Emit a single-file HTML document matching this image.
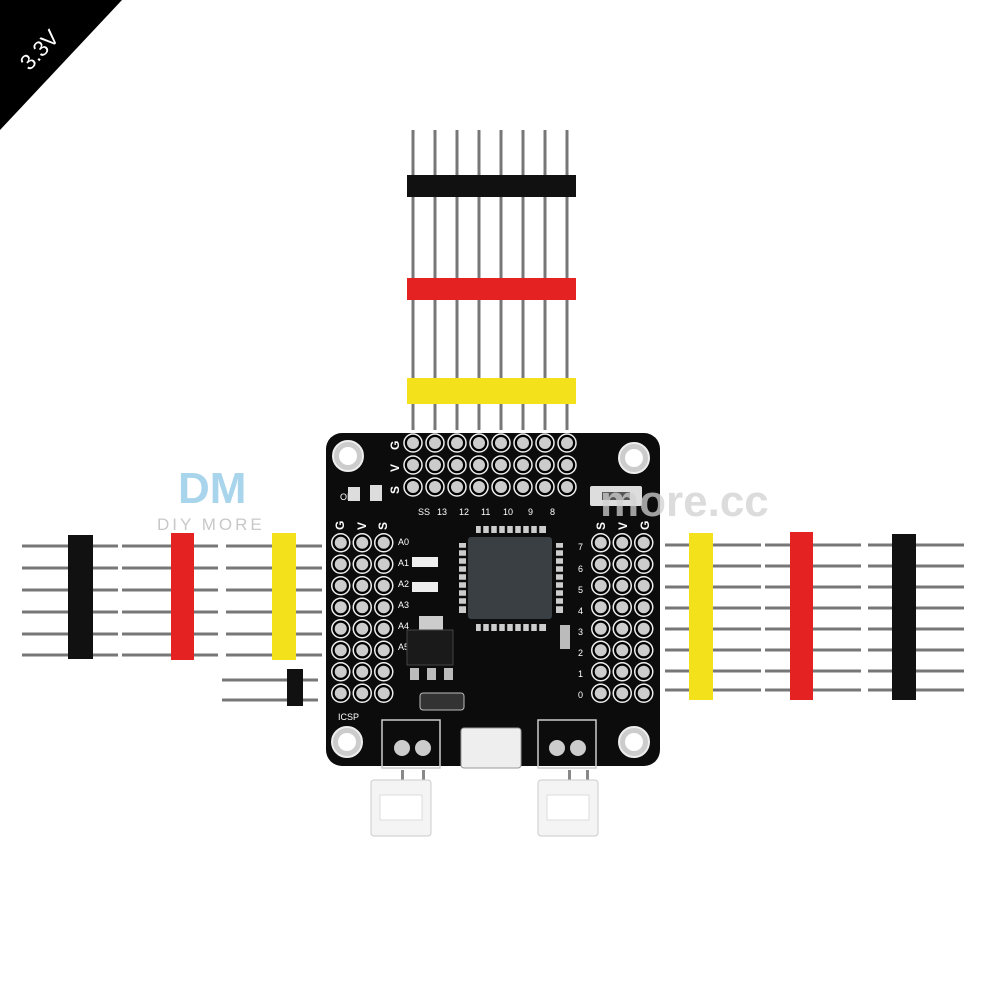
<!DOCTYPE html>
<html><head><meta charset="utf-8"><style>
html,body{margin:0;padding:0;background:#fff;width:1000px;height:1000px;overflow:hidden}
</style></head><body>
<svg width="1000" height="1000" viewBox="0 0 1000 1000" xmlns="http://www.w3.org/2000/svg" font-family="Liberation Sans, sans-serif">
<defs>
<pattern id="hT" x="402" y="432" width="22" height="22" patternUnits="userSpaceOnUse">
<circle cx="11" cy="11" r="9" fill="#000" stroke="#eee" stroke-width="1.5"/><circle cx="11" cy="11" r="6" fill="#ccc"/>
</pattern>
<pattern id="hL" x="330" y="532" width="21.5" height="21.5" patternUnits="userSpaceOnUse">
<circle cx="10.75" cy="10.75" r="9" fill="#000" stroke="#eee" stroke-width="1.5"/><circle cx="10.75" cy="10.75" r="6" fill="#ccc"/>
</pattern>
<pattern id="hR" x="590" y="532" width="21.5" height="21.5" patternUnits="userSpaceOnUse">
<circle cx="10.75" cy="10.75" r="9" fill="#000" stroke="#eee" stroke-width="1.5"/><circle cx="10.75" cy="10.75" r="6" fill="#ccc"/>
</pattern>
<g id="vpin"><rect x="-1.5" y="0" width="3" height="300" fill="#777"/></g>
<g id="hpin"><rect x="0" y="-1.5" width="96" height="3" fill="#777"/></g>
</defs>
<rect width="1000" height="1000" fill="#fff"/>
<polygon points="0,0 122,0 0,130" fill="#000"/>
<text x="45" y="55" fill="#fff" font-size="22" transform="rotate(-47 45 55)" text-anchor="middle">3.3V</text>

<text x="178" y="503" font-size="44" font-weight="bold" fill="#a8d4ec">DM</text>
<text x="157" y="530" font-size="17" fill="#c8c8c8" letter-spacing="3">DIY MORE</text>

<g>
<use href="#vpin" x="413" y="130"/><use href="#vpin" x="435" y="130"/><use href="#vpin" x="457" y="130"/><use href="#vpin" x="479" y="130"/>
<use href="#vpin" x="501" y="130"/><use href="#vpin" x="523" y="130"/><use href="#vpin" x="545" y="130"/><use href="#vpin" x="567" y="130"/>
</g>
<rect x="407" y="175" width="169" height="22" fill="#111"/>
<rect x="407" y="278" width="169" height="22" fill="#e52222"/>
<rect x="407" y="378" width="169" height="26" fill="#f3e21b"/>

<g>
<use href="#hpin" x="22" y="546"/><use href="#hpin" x="22" y="568"/><use href="#hpin" x="22" y="590"/><use href="#hpin" x="22" y="612"/><use href="#hpin" x="22" y="634"/><use href="#hpin" x="22" y="655"/>
<use href="#hpin" x="122" y="546"/><use href="#hpin" x="122" y="568"/><use href="#hpin" x="122" y="590"/><use href="#hpin" x="122" y="612"/><use href="#hpin" x="122" y="634"/><use href="#hpin" x="122" y="655"/>
<use href="#hpin" x="226" y="546"/><use href="#hpin" x="226" y="568"/><use href="#hpin" x="226" y="590"/><use href="#hpin" x="226" y="612"/><use href="#hpin" x="226" y="634"/><use href="#hpin" x="226" y="655"/>
<use href="#hpin" x="222" y="680"/><use href="#hpin" x="222" y="700"/>
</g>
<rect x="68" y="535" width="25" height="124" fill="#111"/>
<rect x="171" y="533" width="23" height="127" fill="#e52222"/>
<rect x="272" y="533" width="24" height="127" fill="#f3e21b"/>
<rect x="287" y="669" width="16" height="37" fill="#111"/>

<g>
<use href="#hpin" x="665" y="545"/><use href="#hpin" x="665" y="566"/><use href="#hpin" x="665" y="587"/><use href="#hpin" x="665" y="608"/><use href="#hpin" x="665" y="629"/><use href="#hpin" x="665" y="650"/><use href="#hpin" x="665" y="671"/><use href="#hpin" x="665" y="690"/>
<use href="#hpin" x="765" y="545"/><use href="#hpin" x="765" y="566"/><use href="#hpin" x="765" y="587"/><use href="#hpin" x="765" y="608"/><use href="#hpin" x="765" y="629"/><use href="#hpin" x="765" y="650"/><use href="#hpin" x="765" y="671"/><use href="#hpin" x="765" y="690"/>
<use href="#hpin" x="868" y="545"/><use href="#hpin" x="868" y="566"/><use href="#hpin" x="868" y="587"/><use href="#hpin" x="868" y="608"/><use href="#hpin" x="868" y="629"/><use href="#hpin" x="868" y="650"/><use href="#hpin" x="868" y="671"/><use href="#hpin" x="868" y="690"/>
</g>
<rect x="689" y="533" width="24" height="167" fill="#f3e21b"/>
<rect x="790" y="532" width="23" height="168" fill="#e52222"/>
<rect x="892" y="534" width="24" height="166" fill="#111"/>

<rect x="326" y="433" width="334" height="333" rx="16" fill="#0c0c0c"/>
<g fill="#ccc" stroke="#eee" stroke-width="2">
<circle cx="348" cy="456" r="15"/><circle cx="634" cy="458" r="15"/><circle cx="347" cy="742" r="15"/><circle cx="634" cy="742" r="15"/>
</g>
<g fill="#fff"><circle cx="348" cy="456" r="9"/><circle cx="634" cy="458" r="9"/><circle cx="347" cy="742" r="9"/><circle cx="634" cy="742" r="9"/></g>
<rect x="402" y="432" width="176" height="66" fill="url(#hT)"/>
<rect x="330" y="532" width="64.5" height="129" fill="url(#hL)"/>
<rect x="330" y="661" width="64.5" height="43" fill="url(#hL)"/>
<rect x="590" y="532" width="64.5" height="172" fill="url(#hR)"/>
<g fill="#fff" font-size="12" font-weight="bold">
<text x="399" y="450" transform="rotate(-90 399 450)">G</text>
<text x="399" y="472" transform="rotate(-90 399 472)">V</text>
<text x="399" y="494" transform="rotate(-90 399 494)">S</text>
<text x="344" y="530" transform="rotate(-90 344 530)">G</text>
<text x="366" y="530" transform="rotate(-90 366 530)">V</text>
<text x="387" y="530" transform="rotate(-90 387 530)">S</text>
<text x="605" y="530" transform="rotate(-90 605 530)">S</text>
<text x="627" y="530" transform="rotate(-90 627 530)">V</text>
<text x="649" y="530" transform="rotate(-90 649 530)">G</text>
</g>
<g fill="#fff" font-size="9">
<text x="418" y="515">SS</text><text x="437" y="515">13</text><text x="459" y="515">12</text><text x="481" y="515">11</text><text x="503" y="515">10</text><text x="528" y="515">9</text><text x="550" y="515">8</text>
<text x="578" y="550">7</text><text x="578" y="572">6</text><text x="578" y="593">5</text><text x="578" y="614">4</text><text x="578" y="635">3</text><text x="578" y="656">2</text><text x="578" y="677">1</text><text x="578" y="698">0</text>
<text x="398" y="545">A0</text><text x="398" y="566">A1</text><text x="398" y="587">A2</text><text x="398" y="608">A3</text><text x="398" y="629">A4</text><text x="398" y="650">A5</text>
<text x="338" y="720">ICSP</text>
<text x="340" y="500">ON</text>
</g>
<rect x="348" y="487" width="12" height="14" fill="#ddd"/>
<rect x="370" y="485" width="12" height="16" fill="#ddd"/>
<rect x="412" y="557" width="26" height="10" fill="#eee"/>
<rect x="412" y="582" width="26" height="10" fill="#eee"/>
<rect x="590" y="486" width="52" height="20" rx="2" fill="#ddd"/>
<rect x="602" y="492" width="28" height="8" fill="#555"/>
<rect x="419" y="616" width="24" height="14" fill="#ccc"/>
<rect x="407" y="630" width="46" height="35" fill="#1a1a1a" stroke="#444"/>
<rect x="410" y="668" width="9" height="12" fill="#bbb"/><rect x="427" y="668" width="9" height="12" fill="#bbb"/><rect x="444" y="668" width="9" height="12" fill="#bbb"/>
<rect x="420" y="693" width="44" height="17" rx="3" fill="#333" stroke="#bbb"/>
<rect x="560" y="625" width="10" height="24" fill="#bbb"/>
<g fill="#ccc">
<rect x="476" y="526" width="70" height="7"/><rect x="476" y="624" width="70" height="7"/>
<rect x="459" y="543" width="7" height="70"/><rect x="556" y="543" width="7" height="70"/>
</g>
<g stroke="#0c0c0c" stroke-width="2.5">
<path d="M482 526v7M490 526v7M498 526v7M506 526v7M514 526v7M522 526v7M530 526v7M538 526v7M482 624v7M490 624v7M498 624v7M506 624v7M514 624v7M522 624v7M530 624v7M538 624v7M459 549h7M459 557h7M459 565h7M459 573h7M459 581h7M459 589h7M459 597h7M459 605h7M556 549h7M556 557h7M556 565h7M556 573h7M556 581h7M556 589h7M556 597h7M556 605h7"/>
</g>
<rect x="468" y="537" width="84" height="82" rx="3" fill="#3a3f44"/>
<rect x="382" y="720" width="58" height="48" fill="none" stroke="#ccc" stroke-width="1.5"/>
<rect x="538" y="720" width="58" height="48" fill="none" stroke="#ccc" stroke-width="1.5"/>
<circle cx="402" cy="748" r="8" fill="#ccc"/><circle cx="423" cy="748" r="8" fill="#ccc"/>
<circle cx="557" cy="748" r="8" fill="#ccc"/><circle cx="578" cy="748" r="8" fill="#ccc"/>
<rect x="461" y="728" width="60" height="40" rx="3" fill="#eee" stroke="#999"/>
<text x="600" y="516" font-size="44" font-weight="bold" fill="#d0d0d0" fill-opacity="0.75">more.cc</text>
<rect x="401" y="770" width="3" height="14" fill="#888"/><rect x="422" y="770" width="3" height="14" fill="#888"/>
<rect x="568" y="770" width="3" height="14" fill="#888"/><rect x="586" y="770" width="3" height="14" fill="#888"/>
<rect x="371" y="780" width="60" height="56" rx="3" fill="#f4f4f4" stroke="#ccc"/>
<rect x="380" y="795" width="42" height="25" fill="#fff" stroke="#ddd"/>
<rect x="538" y="780" width="60" height="56" rx="3" fill="#f4f4f4" stroke="#ccc"/>
<rect x="547" y="795" width="42" height="25" fill="#fff" stroke="#ddd"/>
</svg>
</body></html>
